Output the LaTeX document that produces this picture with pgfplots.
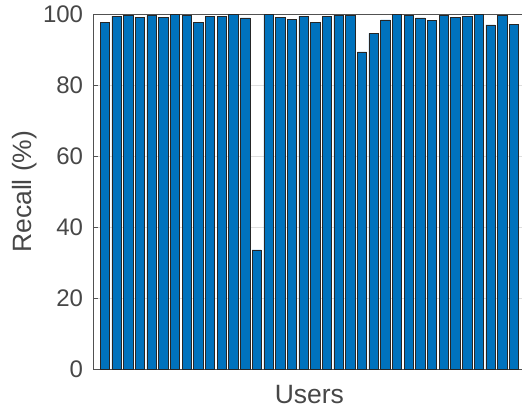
\documentclass[border=0pt]{standalone}
\usepackage{pgfplots}
\pgfplotsset{compat=1.18}
\usepackage{fontspec}
\setmainfont{Liberation Sans}
\definecolor{barblue}{RGB}{0,114,189}
\definecolor{axgray}{RGB}{38,38,38}
\begin{document}
\begin{tikzpicture}
\path (-93.3pt,-41pt) (428.7pt,369.3pt);
\begin{axis}[
  at={(0,0)}, anchor=south west,
  scale only axis,
  width=428.7pt, height=355pt,
  xmin=0, xmax=36.67, ymin=0, ymax=100,
  axis x line*=box, axis y line*=left,
  ytick={0,20,40,60,80,100},
  xtick=\empty,
  tick align=inside,
  major tick length=5pt,
  ymajorgrids,
  grid style={draw=black!13, line width=0.5pt},
  axis line style={draw=axgray!80, line width=0.6pt, -},
  every tick/.style={draw=axgray!80, line width=0.6pt},
  /pgf/number format/assume math mode=true,
  yticklabel style={font=\fontsize{24}{24}\selectfont, text=axgray!85, inner sep=0pt, xshift=-10pt},
  ylabel={Recall (\%)},
  xlabel={Users},
  every axis y label/.style={at={(axis description cs:-0.16,0.5)}, rotate=90, anchor=center, font=\fontsize{26.5}{26.5}\selectfont, text=axgray!85},
  every axis x label/.style={at={(axis description cs:0.5045,0)}, yshift=-25pt, anchor=center, font=\fontsize{26.5}{26.5}\selectfont, text=axgray!85},
  ybar, bar width=0.8,
]
\addplot[fill=barblue, draw=black!85, line width=0.6pt] coordinates {
(1,97.8) (2,99.5) (3,99.8) (4,99.2) (5,99.6) (6,99.1) (7,100) (8,99.6) (9,97.8)
(10,99.5) (11,99.3) (12,99.9) (13,99.0) (14,33.6) (15,100) (16,99.2) (17,98.6) (18,99.5)
(19,97.8) (20,99.5) (21,99.8) (22,99.7) (23,89.4) (24,94.6) (25,98.4) (26,100) (27,99.6)
(28,99.0) (29,98.2) (30,99.6) (31,99.1) (32,99.5) (33,100) (34,97.0) (35,99.8) (36,97.2)
};
\end{axis}
\end{tikzpicture}
\end{document}
